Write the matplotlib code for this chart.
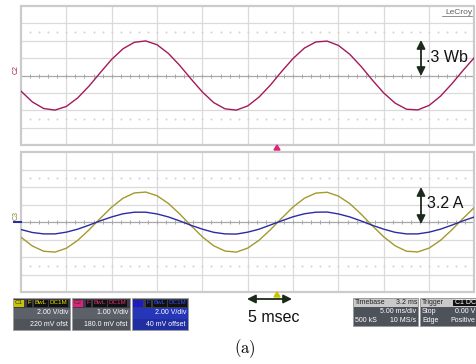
import numpy as np
import matplotlib
matplotlib.use("Agg")
import matplotlib.pyplot as plt
from matplotlib.patches import Rectangle, Polygon

plt.rcParams['font.family'] = ['Liberation Sans', 'DejaVu Sans']
plt.rcParams['mathtext.fontset'] = 'cm'

# scope traces, sampled every 1.25 ms (quarter division), values in divisions
time_ms = np.arange(41) * 1.25
flux_c2 = [-0.90, -1.52, -1.90, -1.99, -1.78, -1.29, -0.61, 0.17, 0.93, 1.54,
           1.91, 1.99, 1.77, 1.27, 0.58, -0.20, -0.95, -1.56, -1.92, -1.99,
           -1.75, -1.24, -0.55, 0.24, 0.98, 1.58, 1.93, 1.98, 1.73, 1.22,
           0.52, -0.27, -1.01, -1.59, -1.94, -1.98, -1.72, -1.19, -0.48, 0.30,
           1.04]
current_c1 = [-0.87, -1.37, -1.67, -1.72, -1.50, -1.05, -0.45, 0.21, 0.85, 1.36,
              1.66, 1.71, 1.50, 1.06, 0.46, -0.21, -0.85, -1.36, -1.66, -1.72,
              -1.49, -1.04, -0.44, 0.22, 0.86, 1.36, 1.65, 1.70, 1.48, 1.05,
              0.45, -0.22, -0.85, -1.36, -1.67, -1.71, -1.49, -1.05, -0.45, 0.21,
              0.84]
current_c3 = [-0.43, -0.60, -0.68, -0.68, -0.58, -0.41, -0.18, 0.07, 0.29, 0.47,
              0.56, 0.56, 0.46, 0.29, 0.06, -0.19, -0.41, -0.59, -0.68, -0.69,
              -0.58, -0.41, -0.17, 0.07, 0.30, 0.47, 0.56, 0.57, 0.46, 0.29,
              0.06, -0.19, -0.41, -0.59, -0.68, -0.68, -0.58, -0.41, -0.18, 0.07,
              0.29]

channel_boxes = [
    ("C1", "#c8c400", "#e8e000", ["2.00 V/div", "220 mV ofst"], "#5c6068"),
    ("C2", "#e0207a", "#e0306a", ["1.00 V/div", "180.0 mV ofst"], "#5c6068"),
    ("C3", "#1818e0", "#3050ff", ["2.00 V/div", "40 mV offset"], "#2636b8"),
]

W, H = 476, 364
fig = plt.figure(figsize=(W / 100, H / 100), dpi=100)
fig.patch.set_facecolor("white")

MAG = "#a3195b"
YEL = "#a39a2d"
BLU = "#2b2ba5"
GRID = "#dadada"
FRAME = "#cbcbcb"
CENTER = "#a8a8a8"


def panel(top, bottom):
    ax = fig.add_axes([21 / W, 1 - bottom / H, 453.5 / W, (bottom - top) / H])
    ax.set_xlim(0, 50)
    ax.set_ylim(-4, 4)
    ax.axis("off")
    for i in range(1, 10):
        ax.axvline(i * 5, color=GRID, lw=0.9, zorder=1)
    for j in (-3, -2, -1, 1, 2, 3):
        ax.axhline(j, color=GRID, lw=0.9, zorder=1)
    ax.axhline(0, color=CENTER, lw=0.9, zorder=1)
    xt = np.arange(0, 50.01, 1.0)
    ax.plot(xt, np.zeros_like(xt), ls="none", marker="|", ms=2.2,
            color=CENTER, mew=0.7, zorder=1)
    for yy in (2.5, -2.5):
        ax.plot(xt[1:-1], np.full(len(xt) - 2, yy), ls="none", marker="s",
                ms=0.5, color="#d6d6d6", zorder=1)
    ax.add_patch(Rectangle((0, -4), 50, 8, fill=False, ec=FRAME, lw=1.6,
                           clip_on=False, zorder=2))
    return ax


ax1 = panel(6, 145)
ax1.plot(time_ms, flux_c2, color=MAG, lw=1.0, zorder=3)

ax2 = panel(152, 292)
ax2.plot(time_ms, current_c1, color=YEL, lw=1.0, zorder=3)
ax2.plot(time_ms, current_c3, color=BLU, lw=1.0, zorder=4)

# overlay in pixel coordinates for annotations and readout boxes
ov = fig.add_axes([0, 0, 1, 1])
ov.set_xlim(0, W)
ov.set_ylim(H, 0)
ov.axis("off")
ov.patch.set_alpha(0)

ov.text(472, 12, "LeCroy", fontsize=6, color="#606060", ha="right",
        va="center")
ov.plot([442, 472], [16, 16], color="#606060", lw=0.5)

ov.text(16, 70, "C2", fontsize=5, color=MAG, rotation=90, ha="center",
        va="center")
ov.text(16, 215, "C3", fontsize=5, color="#8a8420", rotation=90, ha="center",
        va="center")
ov.plot([14, 21], [222, 222], color=BLU, lw=1.5)

arrow = dict(arrowstyle="<|-|>,head_length=0.5,head_width=0.25",
             color="#1b2a1b", lw=1.3, shrinkA=0, shrinkB=0)
ov.annotate("", xy=(421, 40), xytext=(421, 76), arrowprops=arrow)
ov.text(426, 58, ".3 Wb", fontsize=11.5, ha="left", va="center",
        color="#111111")
ov.annotate("", xy=(421, 187), xytext=(421, 224), arrowprops=arrow)
ov.text(427, 204, "3.2 A", fontsize=11.5, ha="left", va="center",
        color="#111111")
ov.annotate("", xy=(247, 299), xytext=(292, 299), arrowprops=arrow)
ov.text(248, 318, "5 msec", fontsize=11.5, ha="left", va="center",
        color="#111111")
ov.text(245, 349, r"$\mathrm{(a)}$", fontsize=12, ha="center", va="center")

# trigger position markers
ov.add_patch(Polygon([(274, 150), (280, 150), (277, 145)], color="#e0207a"))
ov.add_patch(Polygon([(274, 297), (280, 297), (277, 292)], color="#c8c400"))


def clipped_text(x, y, s, box, size=5.0, **kw):
    t = ov.text(x, y, s, fontsize=size, va="center", **kw)
    t.set_clip_path(box)
    return t


bx = [13, 72, 132]
bw = [57, 58, 56]
for (name, label_bg, tag_fg, lines, bg), x0, w in zip(channel_boxes, bx, bw):
    box = Rectangle((x0, 298), w, 32, fc=bg, ec="#9a9a9a", lw=0.6)
    ov.add_patch(box)
    ov.add_patch(Rectangle((x0 + 0.5, 298.5), w - 1, 9, fc="#3a3d45",
                           ec="none"))
    ov.add_patch(Rectangle((x0 + 0.5, 319), w - 1, 10.5, fc="#00000022",
                           ec="none"))
    ov.add_patch(Rectangle((x0 + 1, 299.5), 10, 7, fc=label_bg, ec="none"))
    ov.text(x0 + 6, 303, name, fontsize=4.5, color="#333333",
            ha="center", va="center")
    tx = x0 + 14
    for tag, tw in (("F", 5), ("BwL", 14), ("DC1M", 19)):
        ov.add_patch(Rectangle((tx, 299.5), tw, 7, fc="#111111", ec="none"))
        clipped_text(tx + tw / 2, 303, tag, box, size=4.5, color=tag_fg,
                     ha="center")
        tx += tw + 1.5
    clipped_text(x0 + w - 2, 313, lines[0], box, color="white", ha="right")
    clipped_text(x0 + w - 2, 324, lines[1], box, color="white", ha="right")

# timebase and trigger readouts
tb = Rectangle((353, 298), 65, 28, fc="#4e525b", ec="#9a9a9a", lw=0.6)
ov.add_patch(tb)
ov.add_patch(Rectangle((353.5, 298.5), 64, 8.5, fc="#c9c9c9", ec="none"))
clipped_text(355, 302.5, "Timebase", tb, color="#222222", ha="left")
clipped_text(417, 302.5, "3.2 ms", tb, color="#222222", ha="right")
clipped_text(416, 311.5, "5.00 ms/div", tb, color="white", ha="right")
clipped_text(355, 320.5, "500 kS", tb, color="white", ha="left")
clipped_text(416, 320.5, "10 MS/s", tb, color="white", ha="right")

tr = Rectangle((420, 298), 58, 28, fc="#4e525b", ec="#9a9a9a", lw=0.6)
ov.add_patch(tr)
ov.add_patch(Rectangle((420.5, 298.5), 57, 8.5, fc="#c9c9c9", ec="none"))
ov.add_patch(Rectangle((453, 299.5), 24, 6.5, fc="#111111", ec="none"))
clipped_text(422, 302.5, "Trigger", tr, color="#222222", ha="left")
clipped_text(455, 302.5, "C1 DC", tr, color="white", ha="left")
clipped_text(422, 311.5, "Stop", tr, color="white", ha="left")
clipped_text(475, 311.5, "0.00 V", tr, color="white", ha="right")
clipped_text(422, 320.5, "Edge", tr, color="white", ha="left")
clipped_text(475, 320.5, "Positive", tr, color="white", ha="right")

fig.savefig("out.png", dpi=100, facecolor="white")
